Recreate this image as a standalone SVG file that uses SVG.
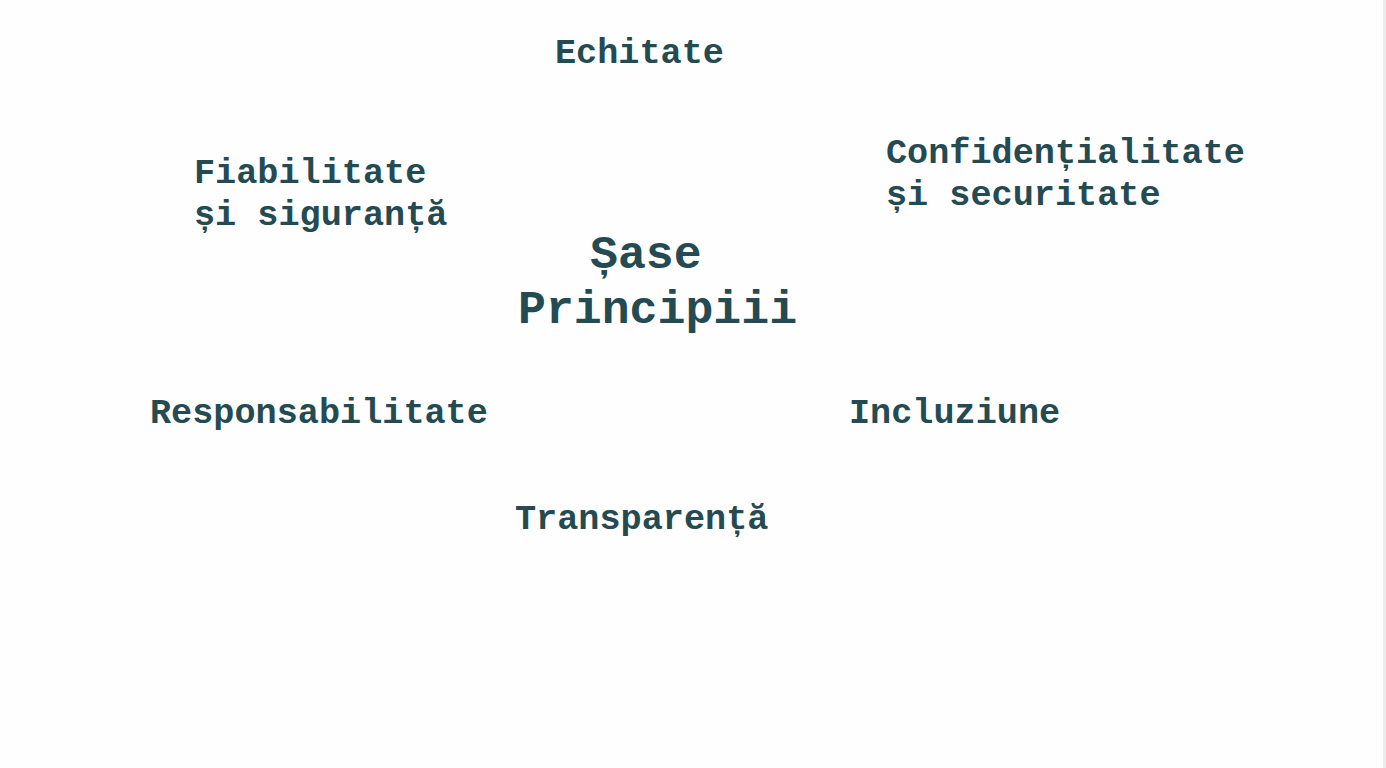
<svg xmlns="http://www.w3.org/2000/svg" width="1386" height="768" viewBox="0 0 1386 768">
<style>
.t{font-family:"Courier New","Nimbus Mono PS","Nimbus Mono L",Courier,FreeMono,"Liberation Mono",monospace;font-weight:bold;fill:#244a52;font-size:35.2px}
.c{font-size:46.5px}
</style>
<rect width="1386" height="768" fill="#fefefe"/>
<rect x="1383" y="0" width="3" height="768" fill="#ececec"/>
<g id="center"><text class="t c" x="590" y="268">Șase</text><text class="t c" x="518" y="323">Principiii</text></g>
<g id="echitate"><text class="t" x="555" y="63">Echitate</text></g>
<g id="fiabilitate"><text class="t" x="194" y="183">Fiabilitate</text><text class="t" x="194" y="225">și siguranță</text></g>
<g id="confidentialitate"><text class="t" x="886" y="163">Confidențialitate</text><text class="t" x="886" y="205">și securitate</text></g>
<g id="responsabilitate"><text class="t" x="150" y="423">Responsabilitate</text></g>
<g id="incluziune"><text class="t" x="849" y="423">Incluziune</text></g>
<g id="transparenta"><text class="t" x="515" y="529">Transparență</text></g>
<g id="connectors"/>
</svg>
